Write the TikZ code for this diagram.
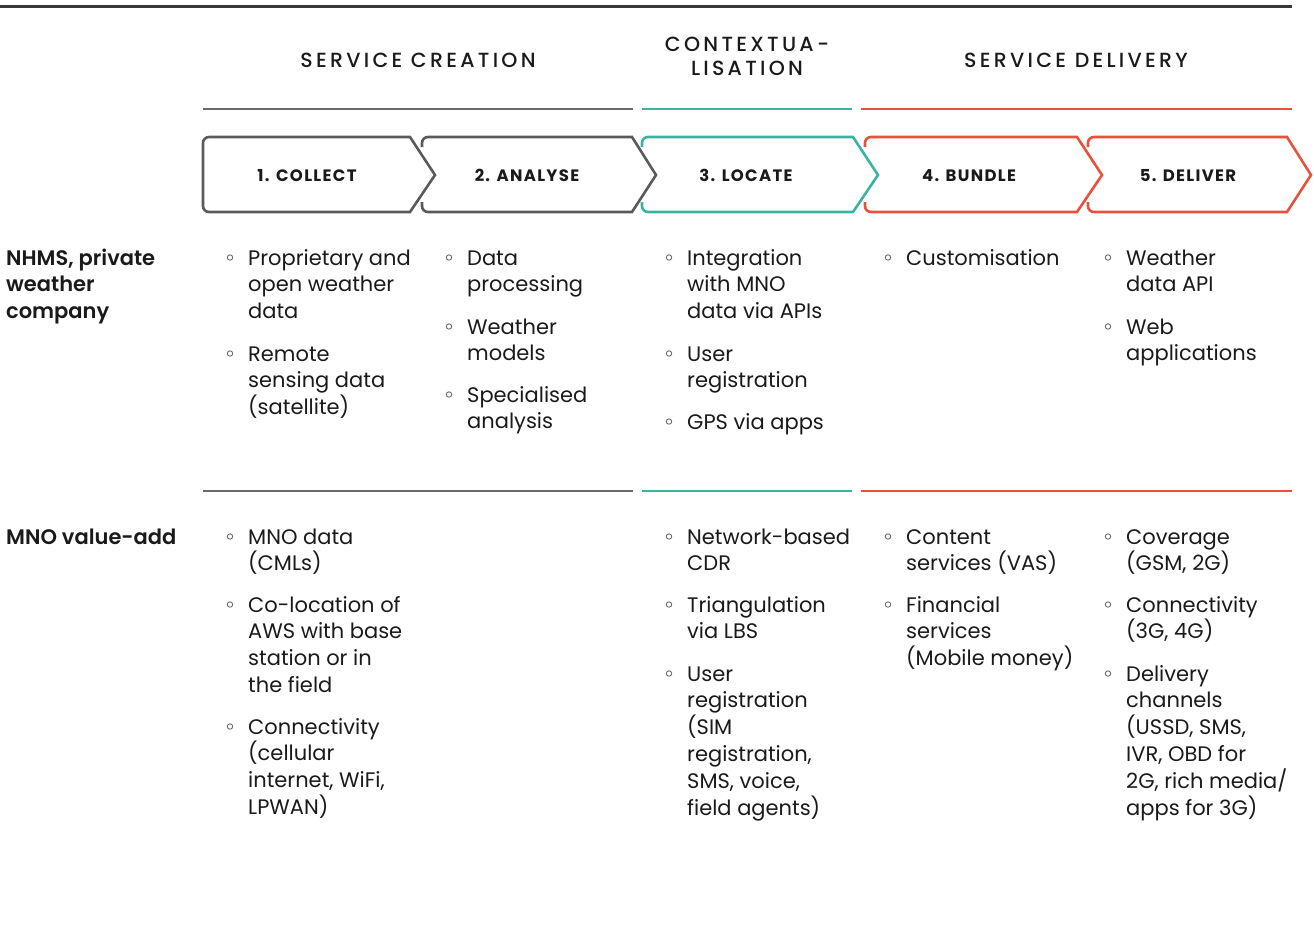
\documentclass[tikz,border=0pt]{standalone}
\usepackage{fontspec}
\setmainfont{Poppins}
\newfontfamily\hdfont[LetterSpace=16]{Poppins Medium}
\newfontfamily\semibfont{Poppins SemiBold}
\newfontfamily\stepfont[LetterSpace=8]{Poppins}
\newcommand\bodyfont{\fontsize{21}{26.8}\selectfont}
\definecolor{boxgray}{HTML}{5A5A5A}
\definecolor{teal}{HTML}{3BB3A0}
\definecolor{redc}{HTML}{E8523C}
\definecolor{txt}{HTML}{1A1A1A}
\definecolor{rule}{HTML}{6A6A6A}
\tikzset{
  itm/.style={anchor=base west, inner sep=0pt, text=txt, font=\bodyfont},
  bul/.style={draw=rule, line width=0.9pt},
  rowlab/.style={anchor=base west, inner sep=0pt, text=txt, font=\semibfont\bodyfont},
  hdr/.style={anchor=base, inner sep=0pt, text=txt, font=\hdfont\fontsize{20.5}{24}\selectfont, align=center},
  steplab/.style={anchor=base, inner sep=0pt, text=txt, font=\stepfont\bfseries\fontsize{16.5}{18}\selectfont},
  chev/.style={line width=2.6pt, line join=miter},
  thin/.style={line width=1.3pt},
}
\newcommand\bitem[4]{%
  \node[itm] (#1) at (#2,#3) {\parbox[t]{240pt}{\raggedright #4}};
  \draw[bul] (#2-18,#3-7.5) circle (2.7);}
\begin{document}
\begin{tikzpicture}[x=1pt,y=-1pt]
\useasboundingbox (0,0) rectangle (1314,938);
% top rule
\draw[line width=3pt, color=black!78] (0,6) -- (1292,6);
% headers
\node[hdr] (h1) at (418,67) {SERVICE CREATION};
\node[hdr, anchor=north] (h2) at (747,37) {CONTEXTUA-\\LISATION};
\node[hdr] (h3) at (1076,67) {SERVICE DELIVERY};
% header rules
\draw[thin, rule] (203,109) -- (633,109);
\draw[thin, teal] (642,109) -- (852,109);
\draw[thin, redc] (861,109) -- (1292,109);
% chevrons
\draw[chev, boxgray] (300,212) [rounded corners=6pt] -- (203,212) -- (203,137) -- (300,137) [sharp corners] -- (410,137) -- (435,175) -- (410,212) -- cycle;
\draw[chev, boxgray] (422,147) [rounded corners=6pt] -- (422,137) -- (520,137) [sharp corners] -- (632,137) -- (656,175) -- (632,212) [rounded corners=6pt] -- (422,212) -- (422,202);
\draw[chev, teal] (642,147) [rounded corners=6pt] -- (642,137) -- (740,137) [sharp corners] -- (853,137) -- (878,175) -- (853,212) [rounded corners=6pt] -- (642,212) -- (642,202);
\draw[chev, redc] (865,147) [rounded corners=6pt] -- (865,137) -- (960,137) [sharp corners] -- (1077,137) -- (1102,175) -- (1077,212) [rounded corners=6pt] -- (865,212) -- (865,202);
\draw[chev, redc] (1088,147) [rounded corners=6pt] -- (1088,137) -- (1190,137) [sharp corners] -- (1287,137) -- (1311,175) -- (1287,212) [rounded corners=6pt] -- (1088,212) -- (1088,202);
\node[steplab] (s1) at (307,181) {1. COLLECT};
\node[steplab] (s2) at (527,181) {2. ANALYSE};
\node[steplab] (s3) at (746,181) {3. LOCATE};
\node[steplab] (s4) at (969,181) {4. BUNDLE};
\node[steplab] (s5) at (1188,181) {5. DELIVER};
% row labels
\node[rowlab] (r1) at (6,265) {\parbox[t]{190pt}{NHMS, private\\weather\\company}};
\node[rowlab] (r2) at (6,544) {MNO value-add};
% row 1
\bitem{a1}{248}{265}{Proprietary and\\open weather\\data}
\bitem{a2}{248}{361}{Remote\\sensing data\\(satellite)}
\bitem{b1}{467}{265}{Data\\processing}
\bitem{b2}{467}{334}{Weather\\models}
\bitem{b3}{467}{402}{Specialised\\analysis}
\bitem{c1}{687}{265}{Integration\\with MNO\\data via APIs}
\bitem{c2}{687}{361}{User\\registration}
\bitem{c3}{687}{429}{GPS via apps}
\bitem{d1}{906}{265}{Customisation}
\bitem{e1}{1126}{265}{Weather\\data API}
\bitem{e2}{1126}{334}{Web\\applications}
% row separators
\draw[thin, rule] (203,491) -- (633,491);
\draw[thin, teal] (642,491) -- (852,491);
\draw[thin, redc] (861,491) -- (1292,491);
% row 2
\bitem{f1}{248}{544}{MNO data\\(CMLs)}
\bitem{f2}{248}{612}{Co-location of\\AWS with base\\station or in\\the field}
\bitem{f3}{248}{734}{Connectivity\\(cellular\\internet, WiFi,\\LPWAN)}
\bitem{g1}{687}{544}{Network-based\\CDR}
\bitem{g2}{687}{612}{Triangulation\\via LBS}
\bitem{g3}{687}{681}{User\\registration\\(SIM\\registration,\\SMS, voice,\\field agents)}
\bitem{k1}{906}{544}{Content\\services (VAS)}
\bitem{k2}{906}{612}{Financial\\services\\(Mobile money)}
\bitem{m1}{1126}{544}{Coverage\\(GSM, 2G)}
\bitem{m2}{1126}{612}{Connectivity\\(3G, 4G)}
\bitem{m3}{1126}{681}{Delivery\\channels\\(USSD, SMS,\\IVR, OBD for\\2G, rich media/\\apps for 3G)}
\end{tikzpicture}
\end{document}
